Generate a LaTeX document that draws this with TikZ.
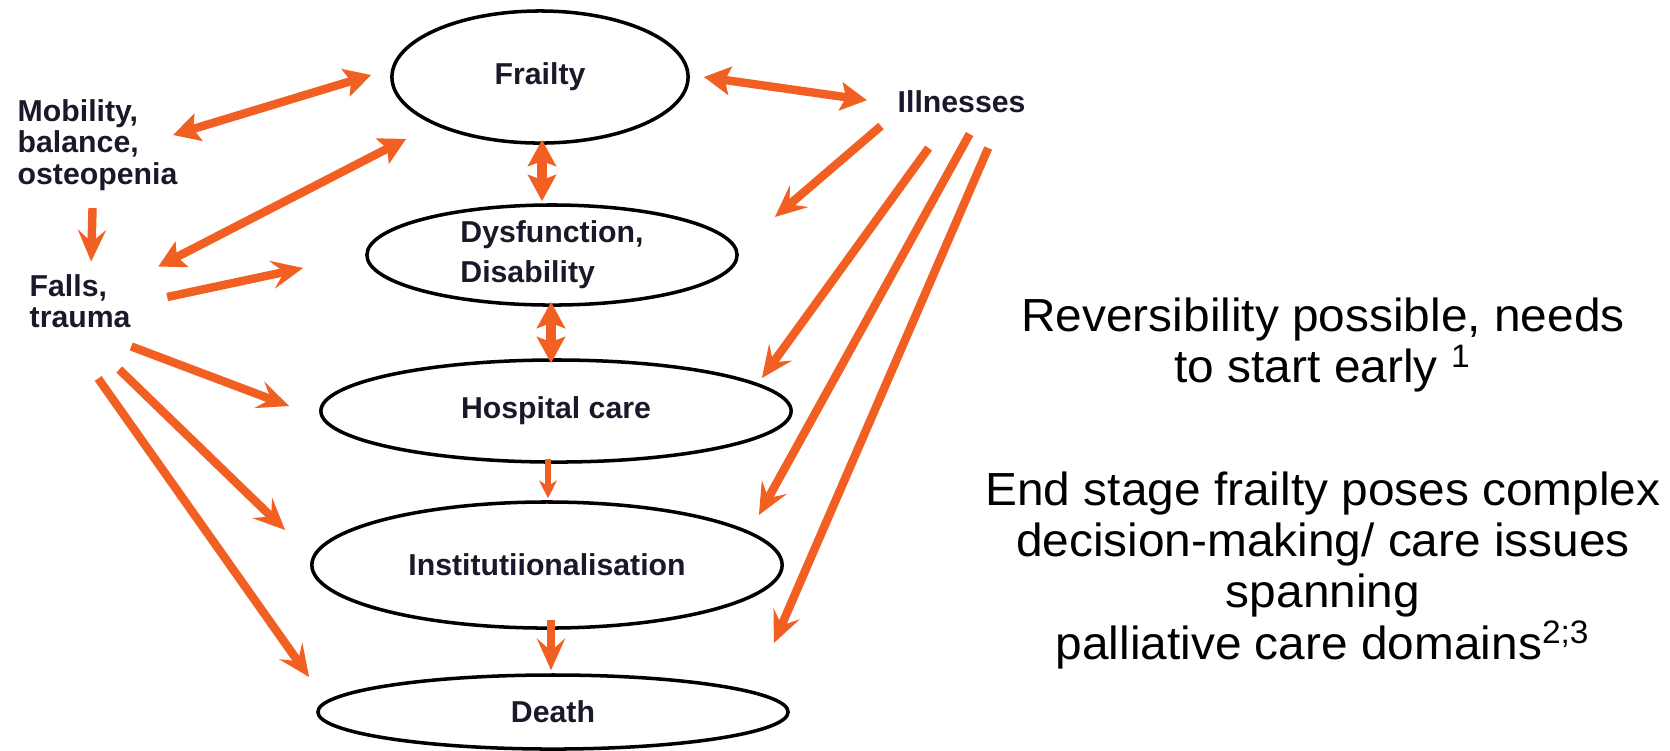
\documentclass[tikz,border=0pt]{standalone}
\usepackage{fontspec}
\setmainfont{Liberation Sans}
\newfontfamily\sidefont[FakeStretch=1.03]{Liberation Sans}
\usepackage{tikz}
\usetikzlibrary{arrows.meta,shapes.geometric}
\definecolor{orng}{RGB}{241,96,34}
\definecolor{ink}{RGB}{25,25,42}
\newcommand\labfont{\fontsize{8.6}{8.9}\selectfont\bfseries}
\newcommand\notefont{\sidefont\fontsize{13.2}{14.6}\selectfont}
\tikzstyle{stage}=[draw,ellipse,line width=1pt,inner sep=0,align=left,font=\labfont,text=ink]
\tikzstyle{factor}=[inner sep=0,align=left,font=\labfont,text=ink]
\tikzstyle{note}=[inner sep=0,align=center,font=\notefont,text=black]
\tikzstyle{link}=[draw,orng,line width=2.4pt,-{Stealth[length=9pt,width=8pt,inset=3.5pt]}]
\tikzstyle{thinlink}=[draw,orng,line width=1.6pt,-{Stealth[length=5pt,width=5pt,inset=1.5pt]}]
\tikzstyle{twoway}=[draw,orng,line width=2.4pt,{Stealth[length=7.5pt,width=8pt,inset=1.5pt]}-{Stealth[length=7.5pt,width=8pt,inset=1.5pt]}]

\begin{document}
\begin{tikzpicture}[x=0.01cm,y=-0.01cm]
\useasboundingbox (0,0) rectangle (1670,750);

% % % stages
	\node[stage,minimum width=2.96cm,minimum height=1.32cm] (frl) at (540,77) {Frailty};
	\node[stage,font={\fontsize{8.6}{11.3}\selectfont\bfseries},minimum width=3.70cm,minimum height=1.00cm] (dys) at (552,255) {Dysfunction,\\Disability};
	\node[stage,minimum width=4.70cm,minimum height=1.02cm] (hos) at (556,411) {Hospital care};
	\node[stage,minimum width=4.70cm,minimum height=1.26cm] (ins) at (547,565) {Institutiionalisation};
	\node[stage,minimum width=4.70cm,minimum height=0.74cm] (dth) at (553,712) {Death};

% % % factors
	\node[factor,anchor=west] (mob) at (17,145) {Mobility,\\balance,\\osteopenia};
	\node[factor,anchor=west] (fal) at (29,301) {Falls,\\trauma};
	\node[factor,anchor=base west] (ill) at (897,112) {Illnesses};

% % % notes
	\node[note] (rev) at (1323,345) {Reversibility possible, needs\\to start early \textsuperscript{1}};
	\node[note] (eos) at (1323,570) {End stage frailty poses complex\\decision-making/ care issues\\spanning\\palliative care domains\textsuperscript{2;3}};

% % % left side
	\path[twoway] ([shift={(-5,-10)}]mob.east) -- ([shift={(-19,-2)}]frl.west);
	\path[twoway] ([shift={(27,-7)}]fal.north east) -- ([shift={(-28,14)}]frl.south west);
	\path[link] ([shift={(36,-4)}]fal.east) -- ([shift={(-62,13)}]dys.west);
	\path[link] ([shift={(-5,17)}]mob.south) -- ([shift={(11,-12)}]fal.north);
	\path[link] ([shift={(0,18)}]fal.south east) -- ([shift={(-30,-5)}]hos.west);
	\path[link] ([shift={(-12,41)}]fal.south east) -- ([shift={(-25,-35)}]ins.west);
	\path[link] ([shift={(18,50)}]fal.south) -- ([shift={(-7,-35)}]dth.west);

% % % down the stages
	\path[twoway,line width=3pt] ([shift={(2,-5)}]frl.south) -- ([shift={(-10,-2)}]dys.north);
	\path[twoway,line width=3pt] ([shift={(-1,-5)}]dys.south) -- ([shift={(-5,5)}]hos.north);
	\path[thinlink] ([shift={(-8,-5)}]hos.south) -- ([shift={(1,-2)}]ins.north);
	\path[link] ([shift={(4,-10)}]ins.south) -- ([shift={(-2,-3)}]dth.north);

% % % right side
	\path[twoway] ([shift={(14,0)}]frl.east) -- ([shift={(-30,-1)}]ill.west);
	\path[link] ([shift={(-16,13)}]ill.south west) -- ([shift={(36,-38)}]dys.east);
	\path[link] ([shift={(-33,35)}]ill.south) -- ([shift={(-31,-33)}]hos.east);
	\path[link] ([shift={(8,21)}]ill.south) -- ([shift={(-25,-50)}]ins.east);
	\path[link] ([shift={(-38,35)}]ill.south east) -- ([shift={(-16,-69)}]dth.east);

\end{tikzpicture}
\end{document}
